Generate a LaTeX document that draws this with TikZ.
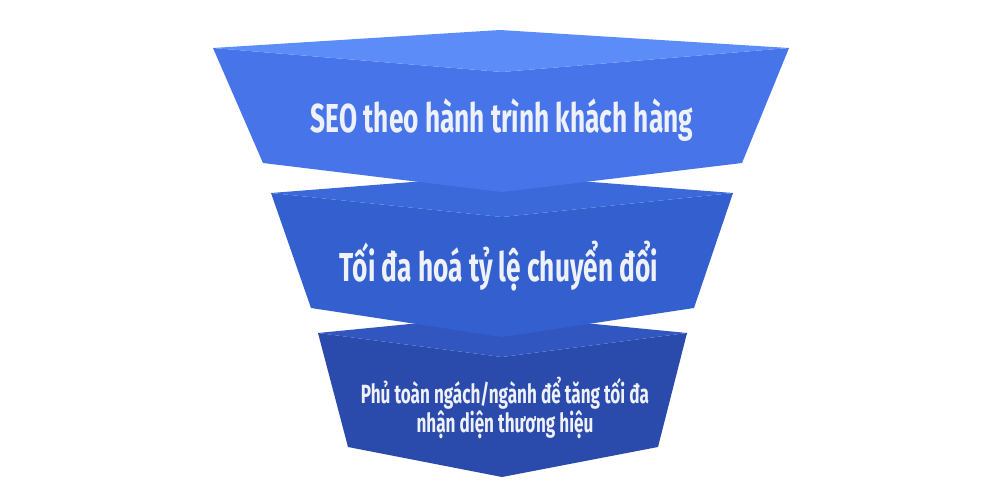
\documentclass[tikz,border=0pt]{standalone}
\usepackage{fontspec}
\newfontfamily\funnelfont{Fira Sans}[FakeStretch=0.65]
\definecolor{frontA}{HTML}{4874EA}
\definecolor{topA}{HTML}{5B8CF7}
\definecolor{frontB}{HTML}{3360CE}
\definecolor{topB}{HTML}{3B69DA}
\definecolor{frontC}{HTML}{2A4AAC}
\definecolor{topC}{HTML}{3256C0}
\definecolor{labeltext}{HTML}{EEF1F8}
\tikzset{funneltext/.style={text=labeltext,font=\funnelfont\bfseries,inner sep=0pt}}
\begin{document}
\begin{tikzpicture}[x=0.2mm,y=-0.2mm]
		\useasboundingbox[fill=white] (0,0) rectangle (1000,500);
		% bottom level
		\fill[frontC] (318,333) -- (502,357) -- (687,333) -- (658,447) -- (502,477) -- (348,447) -- cycle;
		\fill[topC] (318,333) -- (502,315) -- (687,333) -- (502,357) -- cycle;
		% middle level
		\fill[frontB] (271,193) -- (502,217) -- (733,193) -- (694,308) -- (502,337) -- (311,308) -- cycle;
		\fill[topB] (271,193) -- (502,175) -- (733,193) -- (502,217) -- cycle;
		% top level
		\fill[frontA] (213,48) -- (502,72) -- (789,48) -- (742,163) -- (502,192) -- (263,163) -- cycle;
		\fill[topA] (213,48) -- (500,30) -- (789,48) -- (502,72) -- cycle;
		\node[funneltext,font=\funnelfont\bfseries\fontsize{23}{27}\selectfont,anchor=base] (seo) at (502,132) {SEO theo hành trình khách hàng};
		\node[funneltext,font=\funnelfont\bfseries\fontsize{23}{27}\selectfont,anchor=base] (toida) at (499,281) {Tối đa hoá tỷ lệ chuyển đổi};
		\node[funneltext,font=\funnelfont\bfseries\fontsize{15}{15.5}\selectfont,align=center] (phu) at (505,408) {Phủ toàn ngách/ngành để tăng tối đa\\nhận diện thương hiệu};
	\end{tikzpicture}
\end{document}
